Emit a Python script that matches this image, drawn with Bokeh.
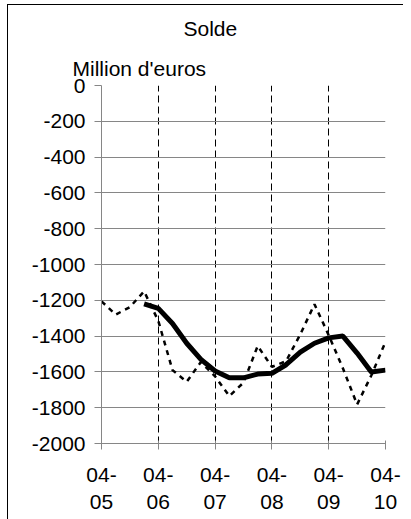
from bokeh.plotting import figure
from bokeh.models import Range1d, FixedTicker, Title, Div, Spacer
from bokeh.layouts import column, row
from bokeh.embed import file_html
from bokeh.resources import INLINE

# ---- data ----
quarters = list(range(21))                     # quarterly index, 0 = 04-05
solde_trim = [-1206, -1280, -1238, -1150, -1315, -1590, -1655, -1545, -1625, -1735,
              -1660, -1455, -1572, -1540, -1390, -1222, -1395, -1580, -1782, -1620, -1432]
ma_quarters = list(range(3, 21))
solde_ma = [-1220, -1245, -1330, -1440, -1530, -1595, -1633, -1633, -1612, -1608,
            -1560, -1490, -1440, -1410, -1400, -1495, -1600, -1590]
year_ticks = [0, 4, 8, 12, 16, 20]
year_labels = ["04-\n05", "04-\n06", "04-\n07", "04-\n08", "04-\n09", "04-\n10"]
y_ticks = list(range(-2000, 1, 200))
y_labels = [str(v) for v in y_ticks]

FONT = "Liberation Sans"
GRAY = "#868686"
H = 516

p = figure(width=395, height=H, output_backend="svg", toolbar_location=None,
           x_range=Range1d(0, 20), y_range=Range1d(-2000, 0),
           min_border_left=93, min_border_right=18, min_border_top=78, min_border_bottom=78,
           outline_line_color=None)

# titles
p.title.text = "Solde"
p.title.align = "left"
p.title.offset = 82
p.title.standoff = 18
p.title.text_font = FONT
p.title.text_font_size = "21px"
p.title.text_font_style = "normal"
p.title.text_color = "black"
p.add_layout(Title(text="Million d'euros", align="left", offset=-29,
                   text_font=FONT, text_font_size="21px", text_font_style="normal",
                   text_color="black", standoff=12), "above")

# axes
p.xaxis.ticker = FixedTicker(ticks=year_ticks)
p.xaxis.major_label_overrides = {t: l for t, l in zip(year_ticks, year_labels)}
p.yaxis.ticker = FixedTicker(ticks=y_ticks)
p.yaxis.major_label_overrides = {t: l for t, l in zip(y_ticks, y_labels)}
for ax in (p.xaxis, p.yaxis):
    ax.axis_line_color = GRAY
    ax.major_tick_line_color = GRAY
    ax.minor_tick_line_color = None
    ax.major_label_text_font = FONT
    ax.major_label_text_font_size = "21px"
    ax.major_label_text_color = "black"
p.yaxis.major_tick_out = 7
p.yaxis.major_tick_in = 0
p.yaxis.major_label_standoff = 9
p.xaxis.major_tick_out = 6
p.xaxis.major_tick_in = 3
p.xaxis.major_label_standoff = 13
p.xaxis.major_label_text_line_height = 1.2

# grids
p.xgrid.ticker = FixedTicker(ticks=[4, 8, 12, 16, 20])
p.xgrid.grid_line_color = "black"
p.xgrid.grid_line_dash = "7 4"
p.xgrid.grid_line_width = 1
p.ygrid.ticker = FixedTicker(ticks=y_ticks[1:])
p.ygrid.grid_line_color = GRAY
p.ygrid.grid_line_width = 1

# series
p.line(quarters, solde_trim, line_color="black", line_width=2.5, line_dash="5 5")
p.line(ma_quarters, solde_ma, line_color="black", line_width=5)

# outer frame (left and top edges) placed with spacers
top_rule = Div(text="", width=396, height=1, margin=0, styles={"background-color": "black"})
left_rule = Div(text="", width=1, height=H, margin=0, styles={"background-color": "black"})
layout = column(
    Spacer(width=403, height=4, margin=0),
    row(Spacer(width=7, height=1, margin=0), top_rule, spacing=0, margin=0),
    row(Spacer(width=7, height=H, margin=0), left_rule, p, spacing=0, margin=0),
    spacing=0, margin=0)

open("out.html", "w").write(file_html(layout, INLINE))
